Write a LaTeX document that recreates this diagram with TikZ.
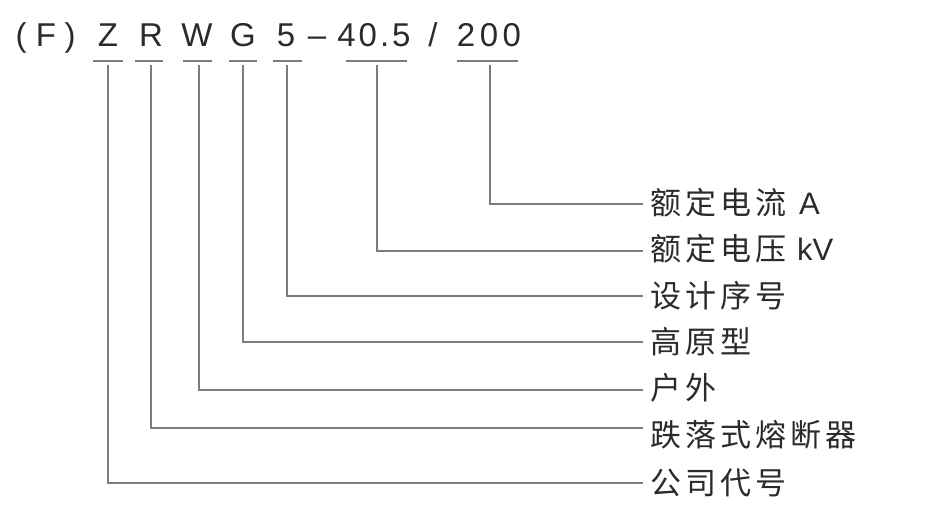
\documentclass[tikz,border=0pt]{standalone}
\usepackage{fontspec}
\setmainfont{Liberation Sans}
\newfontfamily\cjk{Noto Sans CJK SC}
\newcommand\gq{\kern4pt}
\newcommand\latf{\rmfamily\fontsize{31}{31}\selectfont}
\definecolor{txt}{HTML}{2B2B2B}
\definecolor{lnc}{HTML}{7C7C7C}
\begin{document}
\begin{tikzpicture}[x=1pt,y=-1pt,
  code/.style={anchor=base,inner sep=0pt,text=txt,font=\fontsize{33}{33}\selectfont},
  lbl/.style={anchor=west,inner sep=0pt,text=txt,font=\cjk\fontsize{31}{31}\selectfont},
  conn/.style={draw=lnc,line width=1.8pt},
]
\path[use as bounding box, fill=white] (0,0) rectangle (940,517);
% code line
\node[code] (pl) at (21,46) {(};
\node[code] (cF) at (46,46) {F};
\node[code] (pr) at (70,46) {)};
\node[code] (cZ) at (108,46) {Z};
\node[code] (cR) at (151,46) {R};
\node[code] (cW) at (197,46) {W};
\node[code] (cG) at (243,46) {G};
\node[code] (c5) at (286,46) {5};
\node[code] (cd) at (317,46) {–};
\node[code] (cV) at (374,46) {4\kern3pt0\kern3pt.\kern3pt5};
\node[code] (cS) at (433,46) {/};
\node[code] (cA) at (489,46) {2\kern4.5pt0\kern4.5pt0};
% labels
\node[lbl] (lA) at (650,203) {额{\gq}定{\gq}电{\gq}流{\kern13pt}{\latf A}};
\node[lbl] (lV) at (650,249) {额{\gq}定{\gq}电{\gq}压{\kern11pt}{\latf kV}};
\node[lbl] (l5) at (650,296) {设{\gq}计{\gq}序{\gq}号};
\node[lbl] (lG) at (650,342) {高{\gq}原{\gq}型};
\node[lbl] (lW) at (650,388) {户{\gq}外};
\node[lbl] (lR) at (650,435) {跌{\gq}落{\gq}式{\gq}熔{\gq}断{\gq}器};
\node[lbl] (lZ) at (650,483) {公{\gq}司{\gq}代{\gq}号};
% underlines, stems and leaders
\foreach \n/\ua/\ub/\sx/\ly in {Z/93/123/108/483, R/135/163/151/428, W/183/212/199/390, G/229/257/243/342, 5/273/302/287/296, V/346/407/377/251, A/457/518/490/204}{
  \coordinate (u\n a) at (\ua,61);
  \coordinate (u\n b) at (\ub,61);
  \coordinate (s\n) at (\sx,65);
  \coordinate (e\n) at (643,\ly);
  \draw[conn] (u\n a) -- (u\n b);
  \draw[conn] (s\n) |- (e\n);
}
\end{tikzpicture}
\end{document}
